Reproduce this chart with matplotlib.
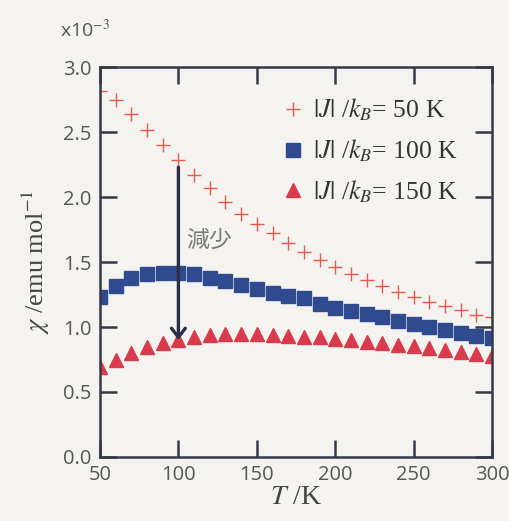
import matplotlib
matplotlib.use("Agg")
import matplotlib.pyplot as plt

# temperature (K)
temps = list(range(50, 301, 10))

# susceptibility in units of 1e-3 emu/mol
chi_50 = [2.82, 2.75, 2.64, 2.52, 2.40, 2.285, 2.17, 2.07, 1.96, 1.87,
          1.79, 1.725, 1.645, 1.58, 1.515, 1.46, 1.41, 1.36, 1.315, 1.27,
          1.23, 1.195, 1.16, 1.13, 1.095, 1.075]
chi_100 = [1.233, 1.315, 1.375, 1.405, 1.418, 1.418, 1.405, 1.38, 1.354, 1.323,
           1.29, 1.26, 1.24, 1.22, 1.18, 1.15, 1.12, 1.10, 1.08, 1.045,
           1.023, 1.00, 0.977, 0.956, 0.933, 0.913]
chi_150 = [0.695, 0.746, 0.80, 0.844, 0.875, 0.90, 0.925, 0.938, 0.944, 0.944,
           0.944, 0.938, 0.93, 0.925, 0.92, 0.905, 0.90, 0.887, 0.876, 0.86,
           0.85, 0.836, 0.825, 0.81, 0.793, 0.777]

labels = [r"$|J|$ /$k_B$= 50 K", r"$|J|$ /$k_B$= 100 K", r"$|J|$ /$k_B$= 150 K"]

x_ticks = [50, 100, 150, 200, 250, 300]
y_ticks = [0.0, 0.5, 1.0, 1.5, 2.0, 2.5, 3.0]

bg = "#f4f3ef"
ink = "#363847"
grey = "#555555"

plt.rcParams["mathtext.fontset"] = "stix"

fig = plt.figure(figsize=(5.10, 5.21), dpi=100, facecolor=bg)
ax = fig.add_axes([0.196, 0.123, 0.769, 0.748], facecolor=bg)

ax.plot(temps, chi_50, linestyle="none", marker="+", markersize=10.5,
        markeredgewidth=1.0, color="#e8574c", label=labels[0])
ax.plot(temps, chi_100, linestyle="none", marker="s", markersize=9.5,
        color="#2f4a8e", label=labels[1])
ax.plot(temps, chi_150, linestyle="none", marker="^", markersize=10.5,
        color="#d93a4c", label=labels[2])

ax.set_xlim(50, 300)
ax.set_ylim(0, 3.0)
ax.set_xticks(x_ticks)
ax.set_yticks(y_ticks)
ax.set_yticklabels([f"{v:.1f}" for v in y_ticks])

for s in ax.spines.values():
    s.set_color(ink)
    s.set_linewidth(1.8)

ax.tick_params(direction="in", length=12, width=1.8, color=ink,
               top=True, right=True, labelsize=14.5, labelcolor=grey, pad=6)
for t in ax.get_xticklabels() + ax.get_yticklabels():
    t.set_family("Open Sans")

ax.set_xlabel(r"$T$ /K", family="Liberation Serif", fontsize=20, color="#444444",
              labelpad=0)
ax.set_ylabel(r"$\chi$ /emu mol$^{-1}$", family="Liberation Serif", fontsize=19,
              color="#444444", labelpad=8)

fig.text(0.117, 0.928, r"x10$^{-3}$", family="Open Sans", fontsize=14, color=grey)

# arrow showing decrease
ax.annotate("", xy=(100, 0.90), xytext=(100, 2.23),
            arrowprops=dict(arrowstyle="->,head_length=0.65,head_width=0.5",
                            color="#2b2e48", lw=2.4, shrinkA=0, shrinkB=0))
ax.text(105, 1.67, "減少", family=["Noto Sans CJK JP", "DejaVu Sans"],
        fontsize=16.5, color="#7a7a7a", va="center")

leg = ax.legend(loc="upper left", bbox_to_anchor=(0.462, 0.924), frameon=False,
                borderpad=0, borderaxespad=0, handlelength=0.9,
                handletextpad=0.35, labelspacing=0.55,
                prop={"family": "Liberation Serif", "size": 18.5})
for t in leg.get_texts():
    t.set_color("#333333")

fig.savefig("out.png", dpi=100, facecolor=bg)
